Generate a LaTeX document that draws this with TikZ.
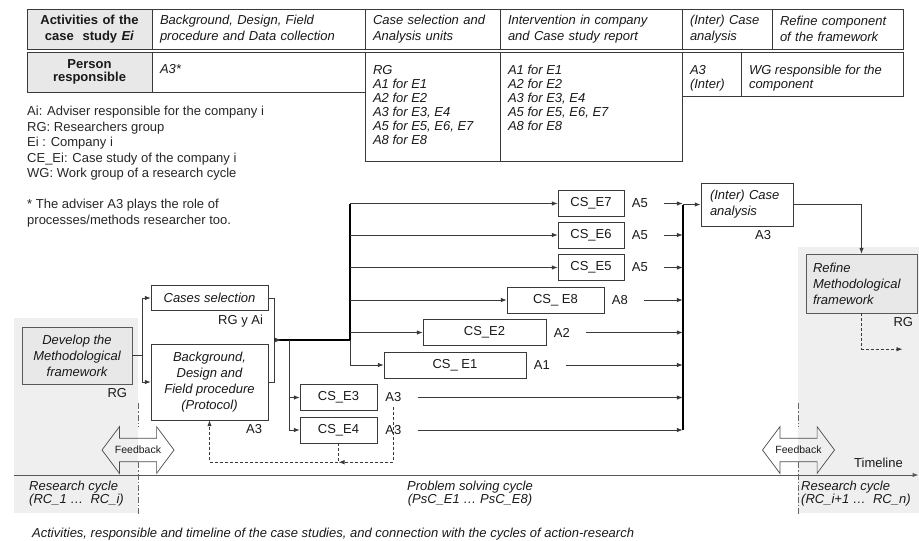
\documentclass[tikz,border=0pt]{standalone}
\usepackage{fontspec}
\setmainfont{Liberation Sans}
\usetikzlibrary{arrows.meta,positioning}

\definecolor{regiongray}{HTML}{EFEFEF}
\definecolor{boxgray}{HTML}{E8E8E8}
\definecolor{linegray}{HTML}{3A3A3A}

% outline of the two-headed "Feedback" arrow round a text node
\newcommand{\feedbackshape}[1]{%
  \draw[fbline] ([xshift=-36pt]#1.center) -- ++(17.4,23.3) -- ++(0,-11.6)
    -- ++(37.2,0) -- ++(0,11.6) -- ++(17.4,-23.3) -- ++(-17.4,-23.3)
    -- ++(0,11.6) -- ++(-37.2,0) -- ++(0,-11.6) -- cycle;}

\begin{document}
\begin{tikzpicture}[x=1pt,y=1pt,
  every node/.style={text=black!90},
  cell/.style={draw=linegray,align=left,inner xsep=8pt,inner ysep=0pt,
    font=\fontsize{13}{16.5}\selectfont\itshape},
  headcell/.style={cell,fill=boxgray,align=center,
    font=\fontsize{13}{16.5}\selectfont\bfseries},
  cellframe/.style={draw=linegray,inner sep=0pt},
  celltext/.style={anchor=north west,inner sep=0pt,align=left,
    font=\fontsize{13}{14}\selectfont\itshape},
  legendtext/.style={anchor=north west,inner sep=0pt,align=left,
    text=black!85,font=\fontsize{13}{15.5}\selectfont},
  box/.style={draw=linegray,fill=white,align=center,inner sep=2pt,
    font=\fontsize{13}{16}\selectfont\itshape},
  graybox/.style={box,fill=boxgray,draw=black!65},
  csbox/.style={draw=linegray,fill=white,minimum height=26pt,inner sep=0pt,
    font=\fontsize{13}{15}\selectfont},
  lbl/.style={inner sep=0pt,font=\fontsize{13}{15}\selectfont},
  cyclet/.style={inner sep=0pt,font=\fontsize{13}{13.3}\selectfont\itshape},
  fbtext/.style={inner sep=0pt,font=\fontsize{10.5}{12}\selectfont},
  fbline/.style={draw=black!70,line width=0.7pt},
  conn/.style={draw=linegray,line width=0.8pt},
  arrow/.style={conn,-{Latex[length=6pt,width=4.5pt]}},
  trunk/.style={draw=black,line width=1.6pt},
  darrow/.style={arrow,dash pattern=on 3pt off 2pt},
  cutline/.style={draw=black!60,line width=0.7pt,dash pattern=on 6pt off 2pt on 1.5pt off 2pt},
  timeline/.style={draw=black!65,line width=1pt,-{Latex[length=6pt,width=4.5pt]}}
]
\useasboundingbox (0,0) rectangle (919,-541);

% ---- shaded research-cycle regions ----
\fill[regiongray] (14,-318) rectangle (138,-513);
\fill[regiongray] (798,-247) rectangle (919,-513);

% ---- table, row 1: activities ----
\node[headcell,text width=109pt,minimum width=125pt,minimum height=40.6pt] (h1) at (89.5,-29)
  {Activities of the\\case\ \ study \textit{Ei}};
\node[cell,text width=197pt,minimum width=213pt,minimum height=40.6pt] (h2) at (258.5,-29)
  {Background, Design, Field\\procedure and Data collection};
\node[cell,text width=119pt,minimum width=135pt,minimum height=40.6pt] (h3) at (432.5,-29)
  {Case selection and\\Analysis units};
\node[cell,text width=166pt,minimum width=182pt,minimum height=40.6pt] (h4) at (591,-29)
  {Intervention in company\\and Case study report};
\node[cell,text width=74pt,minimum width=90pt,minimum height=40.6pt] (h5) at (727,-29)
  {(Inter) Case\\analysis};
\node[cell,text width=115pt,minimum width=131pt,minimum height=40.6pt] (h6) at (837.5,-29)
  {Refine component\\of the framework};

% ---- table, row 2: person responsible ----
\node[headcell,minimum width=125pt,minimum height=39.4pt,
  font=\fontsize{13}{13.5}\selectfont\bfseries] (r1) at (89.5,-72) {Person\\responsible};
\node[cellframe,minimum width=213pt,minimum height=39.4pt] (r2) at (258.5,-72) {};
\node[cellframe,minimum width=135pt,minimum height=108.7pt] (r3) at (432.5,-106.65) {};
\node[cellframe,minimum width=182pt,minimum height=108.7pt] (r4) at (591,-106.65) {};
\node[cellframe,minimum width=59pt,minimum height=43.4pt] (r5) at (711.5,-74) {};
\node[cellframe,minimum width=162pt,minimum height=43.4pt] (r6) at (822,-74) {};
\node[celltext] at ([xshift=8pt,yshift=-12pt]r2.north west) {A3*};
\node[celltext] at ([xshift=8pt,yshift=-13pt]r3.north west)
  {RG\\A1 for E1\\A2 for E2\\A3 for E3, E4\\A5 for E5, E6, E7\\A8 for E8};
\node[celltext] at ([xshift=8pt,yshift=-13pt]r4.north west)
  {A1 for E1\\A2 for E2\\A3 for E3, E4\\A5 for E5, E6, E7\\A8 for E8};
\node[celltext] at ([xshift=8pt,yshift=-13pt]r5.north west) {A3\\(Inter)};
\node[celltext] at ([xshift=8pt,yshift=-13pt]r6.north west) {WG responsible for the\\component};

% ---- legend ----
\node[legendtext] (legend) at (27,-106.3)
  {Ai: Adviser responsible for the company i\\RG: Researchers group\\Ei : Company i\\%
   CE\_Ei: Case study of the company i\\WG: Work group of a research cycle\\[15.5pt]%
   * The adviser A3 plays the role of\\processes/methods researcher too.};

% ---- boxes ----
\node[graybox,minimum width=110pt,minimum height=57pt] (develop) at (77,-355.5)
  {Develop the\\Methodological\\framework};
\node[box,minimum width=117pt,minimum height=25pt] (cases) at (209.5,-298) {Cases selection};
\node[box,minimum width=117pt,minimum height=76pt] (bg) at (209.5,-382)
  {Background,\\Design and\\Field procedure\\(Protocol)};
\node[csbox,minimum width=66pt]  (e7) at (591,-203.5) {CS\_E7};
\node[csbox,minimum width=66pt]  (e6) at (591,-235)   {CS\_E6};
\node[csbox,minimum width=66pt]  (e5) at (591,-267.5) {CS\_E5};
\node[csbox,minimum width=97pt]  (e8) at (555.5,-300) {CS\_ E8};
\node[csbox,minimum width=123pt] (e2) at (484.5,-332.5) {CS\_E2};
\node[csbox,minimum width=142pt] (e1) at (455,-365)   {CS\_ E1};
\node[csbox,minimum width=77pt]  (e3) at (338.5,-397.5) {CS\_E3};
\node[csbox,minimum width=77pt]  (e4) at (338.5,-430) {CS\_E4};
\node[box,align=left,inner xsep=9pt,text width=74pt,minimum height=43pt] (inter) at (747,-204.5)
  {(Inter) Case\\analysis};
\node[graybox,align=left,inner xsep=7pt,text width=97pt,minimum height=59pt] (refine) at (861.5,-283.5)
  {Refine\\Methodological\\framework};

% ---- responsibles ----
\node[lbl,anchor=north east] (rgd)  at ([xshift=-5pt,yshift=-4pt]develop.south east) {RG};
\node[lbl,anchor=north east] (rgai) at ([xshift=-5pt,yshift=-4.6pt]cases.south east) {RG y Ai};
\node[lbl,anchor=north east] (a3b)  at ([xshift=-6pt,yshift=-4.3pt]bg.south east) {A3};
\node[lbl,anchor=north east] (a3i)  at ([xshift=-22pt,yshift=-4.3pt]inter.south east) {A3};
\node[lbl,anchor=north east] (rgr)  at ([xshift=-4pt,yshift=-4.3pt]refine.south east) {RG};
\node[lbl,right=7.5pt of e7] (a7) {A5};
\node[lbl,right=7.5pt of e6] (a6) {A5};
\node[lbl,right=7.5pt of e5] (a5) {A5};
\node[lbl,right=7.5pt of e8] (a8) {A8};
\node[lbl,right=7.5pt of e2] (a2) {A2};
\node[lbl,right=7.5pt of e1] (a1) {A1};
\node[lbl,right=8pt of e3]   (a3) {A3};
\node[lbl,right=8pt of e4]   (a4) {A3};

% ---- develop -> selection / background ----
\draw[conn] (develop.east) -- ++(10,0) coordinate (dv);
\draw[conn] (dv |- cases.west) -- (dv |- bg.west);
\draw[arrow] (dv |- cases.west) -- (cases.west);
\draw[arrow] (dv |- bg.west) -- (bg.west);

% ---- merge and split into the case studies ----
\draw[conn] (cases.east) -- ++(6,0) coordinate (bt) -- (bt |- bg.east) -- (bg.east);
\path (bt) -- (bt |- bg.east) coordinate[pos=0.5] (br);
\coordinate (tr) at ([xshift=76pt]br);
\coordinate (sp) at ([xshift=15pt]br);
\draw[trunk] (br) -- (tr);
\draw[arrow] (br) -- ++(7,0);
\draw[trunk] (tr) -- (tr |- e7.west);
\draw[conn] (tr) -- (tr |- e1.west);
\foreach \e in {e7,e6,e5,e8,e2,e1}
  \draw[arrow] (tr |- \e.west) -- (\e.west);
\draw[arrow] (sp) |- (e3.west);
\draw[arrow] (sp) |- (e4.west);

% ---- collect into the (inter) case analysis ----
\coordinate (col) at ([xshift=-18pt]inter.west);
\draw[trunk] (col |- a4.east) -- (col);
\draw[arrow,line width=1.6pt] (col) -- (inter.west);
\foreach \a in {a7,a6,a5,a8,a2,a1,a3,a4}
  \draw[arrow] ([xshift=16pt]\a.east) -- (\a.east -| col);
\draw[arrow] (inter.east) -| (refine.north);
\coordinate (rgout) at ([xshift=41pt,yshift=-36pt]refine.south);
\draw[darrow] (refine.south) |- (rgout);

% ---- feedback from E3/E4 to the protocol ----
\coordinate (fb) at ([yshift=-19pt]e4.south);
\draw[darrow] ([yshift=-5pt]a3.south) |- (fb);
\draw[darrow] (e4.south) -- (fb) -| (bg.south);

% ---- timeline and cycles ----
\coordinate (tl0) at (14,-475);
\coordinate (tl1) at (918.5,-475);
\draw[timeline] (tl0) -- (tl1);
\node[lbl] (tlabel) at (878.5,-463) {Timeline};
\node[fbtext] (fbl) at (138,-450) {Feedback};
\node[fbtext] (fbr) at (798.5,-450) {Feedback};
\feedbackshape{fbl}
\feedbackshape{fbr}
\foreach \f in {fbl,fbr}{
  \draw[cutline] ([yshift=47pt]\f.center) -- ([yshift=23.5pt]\f.center);
  \draw[cutline] ([yshift=-12pt]\f.center) -- ([yshift=-65pt]\f.center);
}
\node[cyclet,anchor=north west,align=left] (rc1) at (29,-481)
  {Research cycle\\(RC\_1 …\ \ RC\_i)};
\node[cyclet,anchor=north,align=center] (psc) at (470,-481)
  {Problem solving cycle\\(PsC\_E1 … PsC\_E8)};
\node[cyclet,anchor=north west,align=left] (rc2) at (801,-481)
  {Research cycle\\(RC\_i+1 …\ \ RC\_n)};

% ---- caption ----
\node[lbl,anchor=west,font=\fontsize{13}{15}\selectfont\itshape] (caption) at (32,-534)
  {Activities, responsible and timeline of the case studies, and connection with the cycles of action-research};
\end{tikzpicture}
\end{document}
